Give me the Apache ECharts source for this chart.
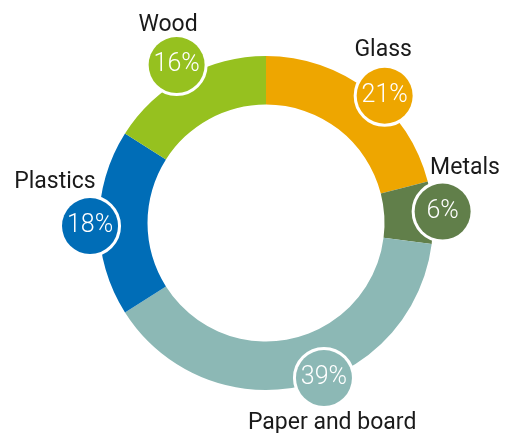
<!DOCTYPE html>
<html lang="en">
<head>
    <meta charset="UTF-8">
    <title>Packaging waste</title>
    <script src="https://cdn.jsdelivr.net/npm/echarts@6/dist/echarts.min.js"></script>
    <style>
        html, body { margin: 0; padding: 0; background: #fff; }
        #main { width: 511px; height: 433px; }
    </style>
</head>
<body>
<div id="main"></div>
<script>
    // data
    var materials = ['Glass', 'Metals', 'Paper and board', 'Plastics', 'Wood'];
    var shares = [21, 6, 39, 18, 16];
    var colors = ['#EEA600', '#617F4A', '#8CB8B5', '#006DB7', '#96C11F'];

    // where the bubbles and names sit: [angle clockwise from top (deg), distance from centre (px)]
    var bubbleAt = [[43, 174], [86.3, 177], [159.5, 165.5], [269, 176], [330.5, 181.5]];
    var nameAt = [[34.1, 209], [74.5, 206.5], [161.7, 210.6], [281, 215], [333.7, 221]];

    var cx = 266, cy = 223;

    function polar(p) {
        var a = p[0] * Math.PI / 180;
        return {x: cx + p[1] * Math.sin(a), y: cy - p[1] * Math.cos(a)};
    }

    var ringData = materials.map(function (m, i) {
        return {
            name: m,
            value: shares[i],
            itemStyle: {color: colors[i]},
            label: {backgroundColor: colors[i]}
        };
    });

    var myChart = echarts.init(document.getElementById('main'));
    var option = {
        animation: false,
        series: [
            {
                // invisible copy, only carries the names
                type: 'pie',
                silent: true,
                avoidLabelOverlap: false,
                center: [cx, cy],
                radius: [118.5, 167],
                startAngle: 90,
                itemStyle: {color: 'rgba(0,0,0,0)'},
                label: {
                    show: true,
                    position: 'inside',
                    overflow: 'none',
                    formatter: '{b}',
                    fontFamily: 'Roboto',
                    fontSize: 23,
                    color: '#1a1a1a'
                },
                labelLine: {show: false},
                labelLayout: function (params) {
                    var p = polar(nameAt[params.dataIndex]);
                    return {x: p.x, y: p.y, align: 'center', verticalAlign: 'middle', hideOverlap: false};
                },
                data: materials.map(function (m, i) {
                    return {name: m, value: shares[i]};
                })
            },
            {
                type: 'pie',
                avoidLabelOverlap: false,
                center: [cx, cy],
                radius: [118.5, 167],
                startAngle: 90,
                label: {
                    show: true,
                    position: 'inside',
                    overflow: 'none',
                    formatter: '{c}%',
                    fontFamily: 'Roboto',
                    fontWeight: 300,
                    fontSize: 25,
                    color: '#fff',
                    width: 56,
                    height: 56,
                    lineHeight: 56,
                    align: 'center',
                    borderRadius: 31,
                    borderColor: '#fff',
                    borderWidth: 3,
                    padding: 0
                },
                labelLine: {show: false},
                labelLayout: function (params) {
                    var p = polar(bubbleAt[params.dataIndex]);
                    return {x: p.x, y: p.y, align: 'center', verticalAlign: 'middle', hideOverlap: false};
                },
                data: ringData
            }
        ]
    };
    myChart.setOption(option);
</script>
</body>
</html>
